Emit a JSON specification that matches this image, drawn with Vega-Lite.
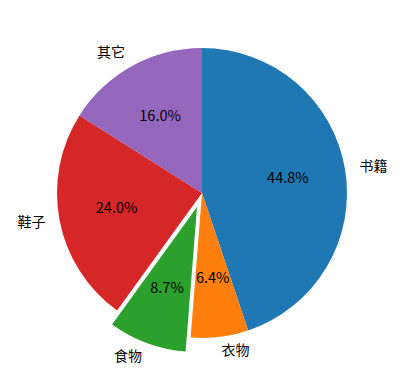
{
  "$schema": "https://vega.github.io/schema/vega-lite/v6.json",
  "width": 404,
  "height": 386,
  "autosize": {"type": "fit", "contains": "padding"},
  "padding": 0,
  "background": "white",
  "config": {"view": {"stroke": null}},
  "data": {"values": [
    {"label": "书籍", "value": 44.8, "pct": "44.8%", "n": 1},
    {"label": "衣物", "value": 6.4, "pct": "6.4%", "n": 2},
    {"label": "食物", "value": 8.7, "pct": "8.7%", "n": 3},
    {"label": "鞋子", "value": 24.0, "pct": "24.0%", "n": 4},
    {"label": "其它", "value": 16.0, "pct": "16.0%", "n": 5}
  ]},
  "encoding": {
    "theta": {"field": "value", "type": "quantitative", "stack": true},
    "order": {"field": "n", "type": "quantitative"}
  },
  "layer": [
    {
      "mark": {"type": "arc", "outerRadius": 145},
      "encoding": {
        "color": {"field": "label", "type": "nominal", "legend": null,
          "scale": {"domain": ["书籍", "衣物", "食物", "鞋子", "其它"],
                    "range": ["#1f77b4", "#ff7f0e", "#2ca02c", "#d62728", "#9467bd"]}},
        "opacity": {"condition": {"test": "datum.label == '食物'", "value": 0}, "value": 1}
      }
    },
    {
      "mark": {"type": "arc", "outerRadius": 145, "xOffset": -5, "yOffset": 14},
      "encoding": {
        "color": {"field": "label", "type": "nominal", "legend": null,
          "scale": {"domain": ["书籍", "衣物", "食物", "鞋子", "其它"],
                    "range": ["#1f77b4", "#ff7f0e", "#2ca02c", "#d62728", "#9467bd"]}},
        "opacity": {"condition": {"test": "datum.label == '食物'", "value": 1}, "value": 0}
      }
    },
    {
      "mark": {"type": "text", "radius": 87, "font": "Noto Sans CJK SC", "fontSize": 14.5, "color": "black"},
      "encoding": {
        "text": {"condition": {"test": "datum.label != '食物'", "field": "pct"}, "value": ""}
      }
    },
    {
      "mark": {"type": "text", "radius": 87, "xOffset": -5, "yOffset": 14, "font": "Noto Sans CJK SC", "fontSize": 14.5, "color": "black"},
      "encoding": {
        "text": {"condition": {"test": "datum.label == '食物'", "field": "pct"}, "value": ""}
      }
    },
    {
      "mark": {"type": "text", "radius": 159.5, "align": "left", "baseline": "middle", "font": "Noto Sans CJK SC", "fontSize": 14, "color": "black"},
      "encoding": {
        "text": {"condition": {"test": "datum.label == '书籍' || datum.label == '衣物'", "field": "label"}, "value": ""}
      }
    },
    {
      "mark": {"type": "text", "radius": 159.5, "align": "right", "baseline": "middle", "font": "Noto Sans CJK SC", "fontSize": 14, "color": "black"},
      "encoding": {
        "text": {"condition": {"test": "datum.label == '鞋子' || datum.label == '其它'", "field": "label"}, "value": ""}
      }
    },
    {
      "mark": {"type": "text", "radius": 159.5, "xOffset": -5, "yOffset": 14, "align": "right", "baseline": "middle", "font": "Noto Sans CJK SC", "fontSize": 14, "color": "black"},
      "encoding": {
        "text": {"condition": {"test": "datum.label == '食物'", "field": "label"}, "value": ""}
      }
    }
  ]
}
